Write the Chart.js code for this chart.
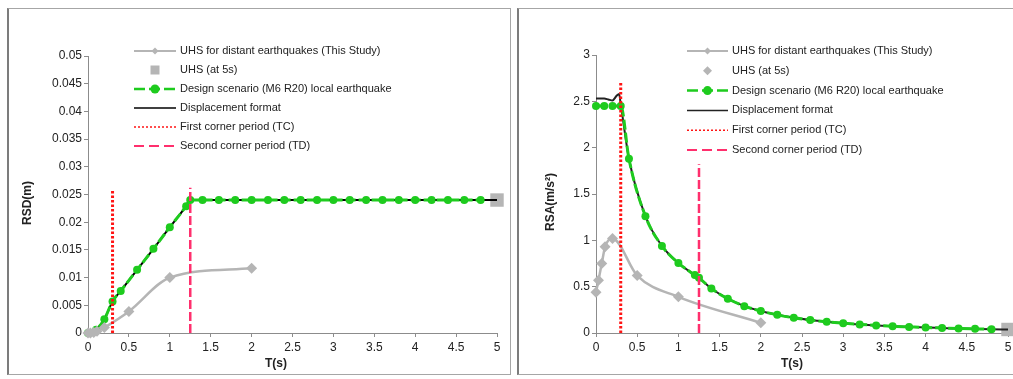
<!DOCTYPE html>
<html>
<head>
<meta charset="utf-8">
<script src="https://cdn.jsdelivr.net/npm/chart.js@4.4.1/dist/chart.umd.min.js"></script>
<style>
  html, body { margin: 0; padding: 0; background: #fff; overflow: hidden; width: 1013px; height: 379px; }
  .frame { position: absolute; box-sizing: border-box; border: 1px solid #a6a6a6; border-left: 2px solid #7c7c7c; }
  #f1 { left: 7px; top: 8px; width: 504px; height: 367px; }
  #f2 { left: 517px; top: 8px; width: 520px; height: 367px; }
  canvas { position: absolute; top: 0; }
  #c1 { left: 0; }
  #c2 { left: 512px; }
</style>
</head>
<body>
<div class="frame" id="f1"></div>
<div class="frame" id="f2"></div>
<canvas id="c1" width="512" height="379"></canvas>
<canvas id="c2" width="520" height="379"></canvas>
<script>
// periods (s)
const T_DESIGN = [0, 0.1, 0.2, 0.3, 0.4, 0.6, 0.8, 1.0, 1.2, 1.25, 1.4, 1.6, 1.8, 2.0, 2.2, 2.4, 2.6, 2.8,
  3.0, 3.2, 3.4, 3.6, 3.8, 4.0, 4.2, 4.4, 4.6, 4.8];
const T_DISP = [0, 0.1, 0.2, 0.3, 0.4, 0.6, 0.8, 1.0, 1.2, 1.25, 1.4, 1.6, 1.8, 2.0, 2.2, 2.4, 2.6, 2.8,
  3.0, 3.2, 3.4, 3.6, 3.8, 4.0, 4.2, 4.4, 4.6, 4.8, 5.0];
const T_DISP_TOP = [0, 0.05, 0.1, 0.15, 0.2, 0.25, 0.28, 0.3];
const T_UHS = [0, 0.03, 0.07, 0.11, 0.2, 0.5, 1.0, 2.0];
const T_UHS5 = 5;
const TC = 0.3;
const TD = 1.25;

// left panel: RSD (m)
const RSD_DESIGN = [0, 0.0006, 0.0025, 0.0057, 0.0076, 0.0114, 0.0152, 0.0191, 0.0229, 0.024,
  0.024, 0.024, 0.024, 0.024, 0.024, 0.024, 0.024, 0.024, 0.024, 0.024, 0.024, 0.024, 0.024,
  0.024, 0.024, 0.024, 0.024, 0.024];
const RSD_DISP = [0, 0.0006, 0.0025, 0.0057, 0.0076, 0.0114, 0.0152, 0.0191, 0.0229, 0.024,
  0.024, 0.024, 0.024, 0.024, 0.024, 0.024, 0.024, 0.024, 0.024, 0.024, 0.024, 0.024, 0.024,
  0.024, 0.024, 0.024, 0.024, 0.024, 0.024];
const RSD_UHS = [0, 0.00001, 0.0001, 0.0003, 0.001, 0.0039, 0.01, 0.0117];
const RSD_UHS5 = 0.024;
const RSD_TC_TOP = 0.026;
const RSD_TD_TOP = 0.0262;

// right panel: RSA (m/s2)
const RSA_DESIGN = [2.45, 2.45, 2.45, 2.45, 1.88, 1.26, 0.94, 0.755, 0.625, 0.595, 0.48, 0.37,
  0.29, 0.237, 0.196, 0.164, 0.14, 0.121, 0.105, 0.093, 0.082, 0.073, 0.066, 0.059, 0.054,
  0.049, 0.045, 0.041];
const RSA_DISP_TOP = [2.53, 2.53, 2.53, 2.52, 2.51, 2.56, 2.58, 2.47];
const RSA_DISP = [1.88, 1.26, 0.94, 0.755, 0.625, 0.595, 0.48, 0.37, 0.29, 0.237, 0.196, 0.164,
  0.14, 0.121, 0.105, 0.093, 0.082, 0.073, 0.066, 0.059, 0.054, 0.049, 0.045, 0.041, 0.038];
const RSA_UHS = [0.44, 0.57, 0.75, 0.93, 1.02, 0.62, 0.39, 0.11];
const RSA_UHS5 = 0.038;
const RSA_TC_TOP = 2.7;
const RSA_TD_TOP = 1.82;

const LEGEND_LABELS = [
  "UHS for distant earthquakes (This Study)",
  "UHS (at 5s)",
  "Design scenario (M6 R20) local earthquake",
  "Displacement format",
  "First corner period (TC)",
  "Second corner period (TD)",
];

const GRAY = "#b5b5b5";
const GREEN = "#1ecb1e";
const RED = "#ff1414";
const PINK = "#ff2f6d";
const AXIS = "#8c8c8c";
const FONT = "'Liberation Sans', Arial, sans-serif";

Chart.defaults.font.family = FONT;
Chart.defaults.color = "#222";

const zip = (xs, ys) => xs.map((x, i) => ({ x, y: ys[i] }));
const fmt = (v) => String(+v.toFixed(4));

function datasets(p) {
  return [
    { label: "TC", data: [{ x: TC, y: 0 }, { x: TC, y: p.tcTop }], borderColor: RED, borderWidth: 3,
      borderDash: [2.5, 2], pointRadius: 0, order: 0 },
    { label: "TD", data: [{ x: TD, y: 0 }, { x: TD, y: p.tdTop }], borderColor: PINK, borderWidth: 2.5,
      borderDash: [9, 3], pointRadius: 0, order: 1 },
    { label: "uhs", data: zip(T_UHS, p.uhs), borderColor: GRAY, borderWidth: 2.5, pointStyle: "rectRot",
      pointRadius: 5.5, pointBackgroundColor: GRAY, pointBorderWidth: 0,
      cubicInterpolationMode: "monotone", order: 2 },
    { label: "design", data: zip(T_DESIGN, p.design), borderColor: GREEN, borderWidth: 3,
      borderDash: [10, 3], pointRadius: 4, pointBackgroundColor: GREEN, pointBorderWidth: 0,
      cubicInterpolationMode: "monotone", order: 3 },
    { label: "disp", data: p.disp, borderColor: p.dispColor, borderWidth: 2, pointRadius: 0,
      cubicInterpolationMode: "monotone", order: 4 },
    { label: "uhs5", data: [{ x: T_UHS5, y: p.uhs5 }], showLine: false, pointStyle: "rect",
      pointRadius: 9.5, pointBackgroundColor: GRAY, pointBorderWidth: 0, order: 5 },
  ];
}

const extras = {
  id: "extras",
  afterDraw(chart, args, o) {
    const ctx = chart.ctx;
    ctx.save();
    // legend
    const xm = (o.lx0 + o.lx1) / 2;
    o.items.forEach((it, i) => {
      const y = o.ly + i * o.ldy;
      if (it.color) {
        ctx.beginPath();
        ctx.setLineDash(it.dash || []);
        ctx.lineWidth = it.width;
        ctx.strokeStyle = it.color;
        ctx.moveTo(o.lx0, y);
        ctx.lineTo(o.lx1, y);
        ctx.stroke();
        ctx.setLineDash([]);
      }
      if (it.marker) {
        ctx.fillStyle = it.mcolor;
        ctx.beginPath();
        const r = it.r;
        if (it.marker === "circle") ctx.arc(xm, y, r, 0, Math.PI * 2);
        if (it.marker === "diamond") { ctx.moveTo(xm - r, y); ctx.lineTo(xm, y - r); ctx.lineTo(xm + r, y); ctx.lineTo(xm, y + r); ctx.closePath(); }
        if (it.marker === "square") ctx.rect(xm - r, y - r, 2 * r, 2 * r);
        ctx.fill();
      }
      ctx.fillStyle = "#222";
      ctx.font = "11px " + FONT;
      ctx.textAlign = "left";
      ctx.textBaseline = "middle";
      ctx.fillText(LEGEND_LABELS[i], o.tx, y);
    });
    // axis titles
    ctx.font = "bold 12px " + FONT;
    ctx.textAlign = "center";
    ctx.textBaseline = "middle";
    ctx.fillText(o.xTitle, o.xtx, o.xty);
    ctx.translate(o.ytx, o.yty);
    ctx.rotate(-Math.PI / 2);
    ctx.fillText(o.yTitle, 0, 0);
    ctx.restore();
  },
};

function legendItems(p) {
  return [
    { color: GRAY, width: 2, marker: "diamond", mcolor: GRAY, r: 3.5 },
    { marker: p.uhs5Marker, mcolor: GRAY, r: 4.5 },
    { color: GREEN, width: 2.5, dash: [11, 4], marker: "circle", mcolor: GREEN, r: 4.5 },
    { color: p.dispColor, width: 1.5 },
    { color: RED, width: 1.5, dash: [2, 2] },
    { color: PINK, width: 2, dash: [10, 5] },
  ];
}

function makeChart(id, p) {
  new Chart(document.getElementById(id), {
    type: "line",
    data: { datasets: datasets(p).map((d) => ({ ...d, clip: false, tension: 0 })) },
    options: {
      responsive: false,
      animation: false,
      events: [],
      layout: { padding: p.pad },
      plugins: {
        legend: { display: false },
        tooltip: { enabled: false },
        extras: p.extras,
      },
      scales: {
        x: {
          type: "linear", min: 0, max: 5,
          ticks: { stepSize: 0.5, padding: 3, font: { size: 12 }, color: "#222", callback: fmt },
          grid: { drawOnChartArea: false, drawTicks: true, tickLength: 4, color: AXIS },
          border: { color: AXIS, width: 1 },
          afterFit: (s) => { s.height = 20; },
        },
        y: {
          type: "linear", min: 0, max: p.yMax,
          ticks: { stepSize: p.yStep, padding: 2, font: { size: 12 }, color: "#222", callback: fmt },
          grid: { drawOnChartArea: false, drawTicks: true, tickLength: 4, color: AXIS },
          border: { color: AXIS, width: 1 },
          afterFit: (s) => { s.width = 40; },
        },
      },
    },
    plugins: [extras],
  });
}

const leftP = {
  design: RSD_DESIGN,
  disp: zip(T_DISP, RSD_DISP),
  dispColor: "#000",
  uhs: RSD_UHS, uhs5: RSD_UHS5, uhs5Marker: "square",
  tcTop: RSD_TC_TOP, tdTop: RSD_TD_TOP,
  yMax: 0.05, yStep: 0.005,
  pad: { left: 48, right: 15, top: 56, bottom: 26 },
};
leftP.extras = {
  items: legendItems(leftP), lx0: 134, lx1: 176, tx: 180, ly: 51, ldy: 19,
  xTitle: "T(s)", xtx: 276, xty: 364, yTitle: "RSD(m)", ytx: 28, yty: 203,
};

const rightP = {
  design: RSA_DESIGN,
  disp: zip(T_DISP_TOP, RSA_DISP_TOP).concat(zip(T_DISP.slice(4), RSA_DISP)),
  dispColor: "#222",
  uhs: RSA_UHS, uhs5: RSA_UHS5, uhs5Marker: "diamond",
  tcTop: RSA_TC_TOP, tdTop: RSA_TD_TOP,
  yMax: 3, yStep: 0.5,
  pad: { left: 44, right: 24, top: 55, bottom: 26 },
};
rightP.extras = {
  items: legendItems(rightP), lx0: 175, lx1: 216, tx: 220, ly: 51, ldy: 19.8,
  xTitle: "T(s)", xtx: 280, xty: 364, yTitle: "RSA(m/s²)", ytx: 39, yty: 202,
};

makeChart("c1", leftP);
makeChart("c2", rightP);
</script>
</body>
</html>
